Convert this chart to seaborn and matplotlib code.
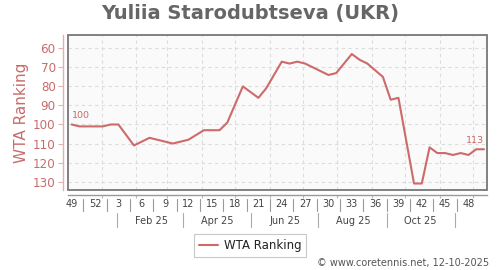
import numpy as np
import pandas as pd
import matplotlib
matplotlib.use("Agg")
import matplotlib.pyplot as plt
import matplotlib.transforms as mtrans
from matplotlib.patches import Rectangle
import seaborn as sns

# ---------------- data ----------------
title = "Yuliia Starodubtseva (UKR)"
series_name = "WTA Ranking"
# week index (0 = week 49 of 2024) of each vertex of the ranking line
weeks = [0, 1, 4, 5, 6, 8, 10, 13, 15, 17, 19, 20, 22, 24, 25, 27, 28, 29, 30,
         33, 34, 36, 37, 38, 40, 41, 42, 44, 45, 46, 47, 48, 49, 50, 51, 52, 53]
ranks = [100, 101, 101, 100, 100, 111, 107, 110, 108, 103, 103, 99, 80, 86, 81,
         67, 68, 67, 68, 74, 73, 63, 66, 68, 75, 87, 86, 131, 131, 112, 115, 115,
         116, 115, 116, 113, 113]
week_labels = ["49", "52", "3", "6", "9", "12", "15", "18", "21", "24", "27",
               "30", "33", "36", "39", "42", "45", "48"]
month_labels = ["Feb 25", "Apr 25", "Jun 25", "Aug 25", "Oct 25"]
y_ticks = [60, 70, 80, 90, 100, 110, 120, 130]
first_label, last_label = "100", "113"
credit = "\u00a9 www.coretennis.net, 12-10-2025"

# ---------------- style ----------------
sns.set_theme(style="white")
plt.rcParams["font.family"] = ["DejaVu Sans"]

LINE = "#cd6a6a"
PINK_TXT = "#c86b6b"
PINK_AX = "#e2b0b0"
GRAY = "#777777"
TXT = "#444444"

W, H = 500, 270
fig = plt.figure(figsize=(W / 100, H / 100), dpi=100)
L, R, T, B = 68.3, 487.3, 35.0, 190.0
ax = fig.add_axes([L / W, 1 - B / H, (R - L) / W, (B - T) / H])
ax.set_facecolor("#fafafa")

df = pd.DataFrame({"week": weeks, "rank": ranks})
sns.lineplot(data=df, x="week", y="rank", ax=ax, color=LINE, linewidth=1.5,
             label=series_name, legend=False, zorder=3)

ax.set_xlim(-0.437, 53.42)
ax.set_ylim(134.4, 53.0)

# month starts (grid) expressed in week index, origin 2024-12-05
base = pd.Timestamp("2024-12-05")
month_starts = pd.date_range("2025-01-01", "2025-12-01", freq="MS")
grid_x = [(d - base).days / 7 for d in month_starts]
sep_dates = pd.to_datetime(["2025-01-15", "2025-03-15", "2025-05-15",
                            "2025-07-15", "2025-09-15", "2025-11-15"])
sep_x = [(d - base).days / 7 for d in sep_dates]
lab_dates = pd.to_datetime(["2025-02-15", "2025-04-15", "2025-06-15",
                            "2025-08-15", "2025-10-15"])
lab_x = [(d - base).days / 7 for d in lab_dates]

ax.set_xticks(grid_x)
ax.set_xticklabels([])
ax.set_yticks(y_ticks)
ax.set_yticklabels([str(v) for v in y_ticks])
ax.grid(True, color="#dcdcdc", linestyle=(0, (3, 3)), linewidth=0.8)
ax.set_xlabel("")
ax.set_ylabel(series_name, color=PINK_TXT, fontsize=11, labelpad=3)

# spines: offset axis lines + gray frame
for s in ["top", "right"]:
    ax.spines[s].set_visible(False)
ax.spines["left"].set_position(("outward", 3.6))
ax.spines["left"].set_color(PINK_AX)
ax.spines["left"].set_linewidth(1.0)
ax.spines["bottom"].set_position(("outward", 3.6))
ax.spines["bottom"].set_color("#999999")
ax.spines["bottom"].set_linewidth(1.0)
ax.add_patch(Rectangle((0, 0), 1, 1, transform=ax.transAxes, fill=False,
                       edgecolor=GRAY, linewidth=1.3, zorder=5, clip_on=False))

ax.tick_params(axis="y", which="major", left=True, length=3.5, width=0.8,
               color=PINK_AX, labelcolor=PINK_TXT, labelsize=8.6, pad=2)
ax.tick_params(axis="x", which="major", bottom=True, length=2.5, width=0.8,
               color="#bbbbbb", direction="out")

# week labels and separators
blend = mtrans.blended_transform_factory(ax.transData, ax.transAxes)
week_pos = np.arange(len(week_labels)) * 3
for xp, lab in zip(week_pos, week_labels):
    ax.text(xp, -0.092, lab, transform=blend, ha="center", va="center",
            fontsize=7, color=TXT, clip_on=False)
for xp in week_pos[:-1] + 1.5:
    ax.plot([xp, xp], [-0.060, -0.134], transform=blend, color="#999999",
            linewidth=0.8, clip_on=False)
for xp in sep_x:
    ax.plot([xp, xp], [-0.148, -0.237], transform=blend, color="#aaaaaa",
            linewidth=0.8, clip_on=False)
for xp, lab in zip(lab_x, month_labels):
    ax.text(xp, -0.197, lab, transform=blend, ha="center", va="center",
            fontsize=7, color=TXT, clip_on=False)

# end annotations
ax.annotate(first_label, (weeks[0], ranks[0]), xytext=(0, 3),
            textcoords="offset points", ha="left", va="bottom",
            fontsize=6.8, color=PINK_TXT)
ax.annotate(last_label, (weeks[-1], ranks[-1]), xytext=(0, 3),
            textcoords="offset points", ha="right", va="bottom",
            fontsize=6.8, color=PINK_TXT)

fig.text(250 / W, 1 - 14 / H, title, ha="center", va="center",
         fontsize=14, fontweight="bold", color="#666666")

handles, labels = ax.get_lines()[:1], [series_name]
leg = fig.legend(handles, labels, loc="center",
                 bbox_to_anchor=(250 / W, 1 - 245.5 / H), fontsize=8.5,
                 frameon=True, fancybox=False, edgecolor="#bbbbbb",
                 handlelength=1.6, handletextpad=0.5, borderpad=0.4)
leg.get_frame().set_linewidth(0.8)
for t in leg.get_texts():
    t.set_color("#222222")

fig.text(489 / W, 1 - 263 / H, credit, ha="right", va="center",
         fontsize=7, color="#555555")

fig.savefig("out.png", dpi=100)
